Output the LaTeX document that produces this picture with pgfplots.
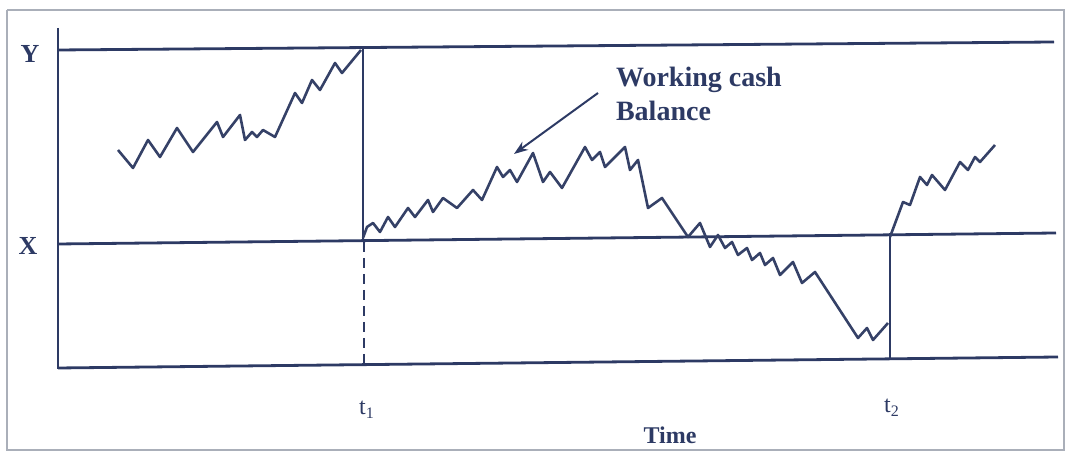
\documentclass[border=0pt]{standalone}
\usepackage{pgfplots}
\pgfplotsset{compat=1.18}
\usepackage{fontspec}
\setmainfont{Liberation Serif}
\usetikzlibrary{arrows.meta}
\definecolor{ink}{RGB}{45,58,100}
\definecolor{frame}{RGB}{170,175,185}
\begin{document}
\begin{tikzpicture}
\begin{axis}[
  scale only axis, width=533.5pt, height=226.5pt,
  xmin=0, xmax=1067, ymin=0, ymax=453, y dir=reverse,
  axis line style={draw=none}, ticks=none, clip=false,
]
% frame of the scan
\addplot[frame, line width=0.9pt] coordinates {(7,10) (1064,10) (1064,450) (7,450) (7,10)};
% left axis
\addplot[ink, line width=1.3pt] coordinates {(58,28) (58,369)};
% Y, X and bottom lines
\addplot[ink, line width=1.4pt] coordinates {(58,50) (1054,42)};
\addplot[ink, line width=1.4pt] coordinates {(58,244) (1056,233)};
\addplot[ink, line width=1.4pt] coordinates {(58,368) (1058,357)};
% t1 vertical
\addplot[ink, line width=1.2pt] coordinates {(363,48) (363,242)};
\addplot[ink, line width=1.2pt, dash pattern=on 5pt off 3pt] coordinates {(364,242) (364,366)};
% t2 vertical
\addplot[ink, line width=1.2pt] coordinates {(890,233) (890,360)};
% working cash balance
\addplot[ink!90!gray, line width=1.3pt, line join=round] coordinates {
(118,150) (133,168) (148,140) (160,157) (177,128) (193,152) (217,122) (223,137)
(240,115) (245,140) (252,132) (257,137) (263,130) (275,137) (295,93) (302,103)
(312,80) (320,90) (335,63) (342,73) (361,50)};
\addplot[ink!90!gray, line width=1.3pt, line join=round] coordinates {
(363,238) (367,227) (373,223) (380,232) (388,217) (395,227) (408,208) (415,217)
(428,200) (433,212) (443,198) (457,208) (473,190) (482,200) (497,167) (503,177)
(510,170) (517,182) (533,153) (543,182) (550,172) (562,188) (585,147) (592,160)
(600,152) (605,167) (625,147) (630,170) (638,160) (648,208) (662,198) (688,237)
(700,223) (710,247) (718,235) (725,248) (732,242) (738,255) (747,248) (752,260)
(760,253) (765,265) (773,258) (780,275) (793,262) (802,283) (815,272) (858,338)
(867,328) (873,340) (888,323)};
\addplot[ink!90!gray, line width=1.3pt, line join=round] coordinates {
(890,237) (903,202) (910,205) (920,177) (927,185) (932,175) (945,190) (960,162)
(968,170) (975,157) (980,162) (995,145)};
% arrow
\addplot[ink, line width=1pt, -{Stealth[length=7pt,width=5pt]}] coordinates {(598,93) (514,154)};
% labels
\node[text=ink, font=\fontsize{13}{15}\selectfont\bfseries] at (axis cs:30,54) {Y};
\node[text=ink, font=\fontsize{13}{15}\selectfont\bfseries] at (axis cs:28,246) {X};
\node[text=ink, font=\fontsize{14}{17}\selectfont\bfseries, anchor=base west] at (axis cs:609,87) {Working cash};
\node[text=ink, font=\fontsize{14}{17}\selectfont\bfseries, anchor=base west] at (axis cs:609,121) {Balance};
\node[text=ink, font=\fontsize{12}{14}\selectfont] at (axis cs:367,410) {t\textsubscript{1}};
\node[text=ink, font=\fontsize{12}{14}\selectfont] at (axis cs:892,408) {t\textsubscript{2}};
\node[text=ink, font=\fontsize{12}{14}\selectfont\bfseries] at (axis cs:670,435) {Time};
\end{axis}
\end{tikzpicture}
\end{document}
